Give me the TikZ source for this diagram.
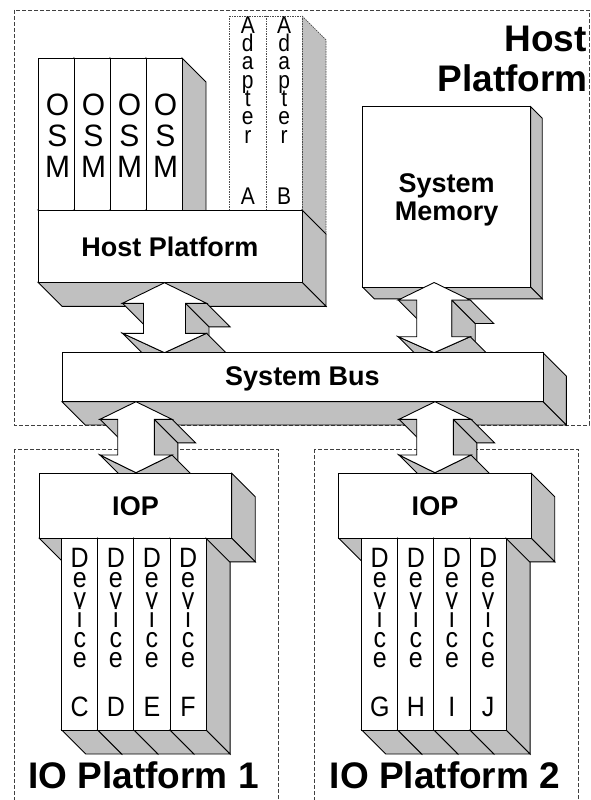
\documentclass[tikz,border=0pt]{standalone}
\usepackage{fontspec}
\usepackage{graphicx}
\setmainfont{Liberation Sans}
\definecolor{boxgray}{RGB}{192,192,192}
% font sizes (1pt = one unit of the drawing grid)
\newcommand\titlefont{\fontsize{37}{37}\selectfont\bfseries}
\newcommand\labelfont{\fontsize{27}{27}\selectfont\bfseries}
\newcommand\osmfont{\fontsize{30}{30}\selectfont}
\newcommand\adfont{\fontsize{21}{21}\selectfont}
\newcommand\devfont{\fontsize{25}{25}\selectfont}

\tikzset{
  face/.style={fill=white, draw=black, line width=0.9pt},
  side/.style={fill=boxgray, draw=black, line width=0.9pt},
  zone/.style={draw=black!75, line width=0.8pt, dash pattern=on 4pt off 2pt},
  slot/.style={draw=black!70, line width=0.7pt, dash pattern=on 1.5pt off 1pt},
  letter/.style={anchor=base, inner sep=0pt},
}

% extruded box: [style] x1 y1 x2 y2 depth  (right and lower faces shown)
\newcommand{\prism}[6][]{%
  \filldraw[side,#1] (#4,#3) -- ++(#6,#6) -- ({#4+#6},{#5+#6}) -- (#4,#5) -- cycle;
  \filldraw[side,#1] (#2,#5) -- (#4,#5) -- ({#4+#6},{#5+#6}) -- ({#2+#6},{#5+#6}) -- cycle;
  \filldraw[face,#1] (#2,#3) rectangle (#4,#5);
}

% extruded double arrow: cx top headhalf shafthalf headbase lowerbase bottom depth
\newcommand{\dualarrow}[8]{%
  \pgfmathsetmacro\arL{#1-#3}\pgfmathsetmacro\arR{#1+#3}%
  \pgfmathsetmacro\shL{#1-#4}\pgfmathsetmacro\shR{#1+#4}%
  \filldraw[side] (\shR,#5) -- (\shR,#6) -- ++(#8,#8) -- ({\shR+#8},{#5+#8}) -- cycle;
  \filldraw[side] (\shR,#5) -- (\arR,#5) -- ++(#8,#8) -- ({\shR+#8},{#5+#8}) -- cycle;
  \filldraw[side] (\arL,#5) -- (\shL,#5) -- ++(#8,#8) -- ({\arL+#8},{#5+#8}) -- cycle;
  \filldraw[side] (\arL,#6) -- (#1,#7) -- ++(#8,#8) -- ({\arL+#8},{#6+#8}) -- cycle;
  \filldraw[side] (#1,#7) -- (\arR,#6) -- ++(#8,#8) -- ({#1+#8},{#7+#8}) -- cycle;
  \filldraw[face] (#1,#2) -- (\arR,#5) -- (\shR,#5) -- (\shR,#6) -- (\arR,#6)
    -- (#1,#7) -- (\arL,#6) -- (\shL,#6) -- (\shL,#5) -- (\arL,#5) -- cycle;
}

% vertical lettering: one centred letter per line, fixed line step
\newcommand\vl[1]{\hbox to 24pt{\hss\scalebox{1}[\vstretch]{#1}\hss}}
\newcommand\vstack[3]{% step, vertical stretch, \vl letters
  \vtop{\def\vstretch{#2}\baselineskip=#1pt\lineskiplimit=-\maxdimen\lineskip=0pt #3}}

% a row of device cards under an IOP: prefix xshift letters
\newcommand{\devicerow}[3]{%
  \foreach \c [count=\n from 0] in {#3} {
    \pgfmathsetmacro\dx{#2+61.7+36.1*\n}
    \prism{\dx}{538.3}{\dx+36.1}{730}{24}
    \node[letter, font=\devfont] (#1\n) at (\dx+18.05,567)
      {\vstack{20}{1.12}{\vl D\vl e\vl v\vl i\vl c\vl e}};
    \node[letter, font=\devfont] (#1\n-id) at (\dx+18.05,716) {\scalebox{1}[1.12]{\c}};
  }
}

\begin{document}
\begin{tikzpicture}[x=1pt, y=-1pt]
  \useasboundingbox (0,0) rectangle (591,800);

  % platform outlines
  \draw[zone] (14,10) rectangle (589,425);
  \draw[zone] (14,449.3) rectangle (278.3,810);
  \draw[zone] (314,449.3) rectangle (578.3,810);

  \node[font=\titlefont, anchor=base east, inner sep=0pt] (host-t1) at (587,52) {Host};
  \node[font=\titlefont, anchor=base east, inner sep=0pt] (host-t2) at (588,91) {Platform};
  \node[font=\titlefont, anchor=base, inner sep=0pt] (io1-title) at (143.5,788) {IO Platform 1};
  \node[font=\titlefont, anchor=base, inner sep=0pt] (io2-title) at (445,788) {IO Platform 2};

  % OS modules standing on the host platform
  \foreach \i in {0,...,3} {
    \pgfmathsetmacro\ox{38+36*\i}
    \prism{\ox}{58}{\ox+36}{210}{24}
    \node[letter, font=\osmfont] (osm\i) at (\ox+19.5,115)
      {\vstack{31}{1.03}{\vl O\vl S\vl M}};
  }

  % adapter slots
  \prism[slot]{229.3}{16}{266}{210}{24}
  \prism[slot]{266}{16}{302}{210}{24}
  \node[letter, font=\adfont] (adA) at (247.8,33.3)
    {\vstack{18.3}{1.15}{\vl A\vl d\vl a\vl p\vl t\vl e\vl r}};
  \node[letter, font=\adfont] (adB) at (284.2,33.3)
    {\vstack{18.3}{1.15}{\vl A\vl d\vl a\vl p\vl t\vl e\vl r}};
  \node[letter, font=\adfont] (adA-id) at (247.8,204) {\scalebox{1}[1.15]{A}};
  \node[letter, font=\adfont] (adB-id) at (284.2,204) {\scalebox{1}[1.15]{B}};

  % host platform and memory
  \prism{38}{210}{302}{282.3}{24}
  \node[letter, font=\labelfont] (hostp) at (170,256.7) {Host Platform};
  \prism{362.7}{106.7}{530.7}{287.3}{11.5}
  \node[letter, font=\labelfont] (mem1) at (446.7,192) {System};
  \node[letter, font=\labelfont] (mem2) at (446.7,220) {Memory};

  % links to the system bus
  \dualarrow{164.5}{282.7}{42}{21}{303.3}{333.3}{352.7}{23.5}
  \dualarrow{434.2}{282.5}{36}{17.5}{300}{336.7}{352.7}{23.5}

  % system bus
  \prism{62}{352.7}{543}{401.7}{23.3}
  \node[letter, font=\labelfont] (bus) at (302.5,385.7) {System Bus};

  % links from the bus to the IO processors
  \dualarrow{136}{401.7}{36}{18.3}{419.3}{455}{472.7}{23.5}
  \dualarrow{435}{401.7}{36}{18.3}{419.3}{455}{472.7}{23.5}

  % IO processors and their devices
  \prism{39.3}{473.3}{231.7}{538.3}{23.5}
  \node[letter, font=\labelfont] (iop1) at (135.5,515) {IOP};
  \prism{338.8}{473.3}{531.2}{538.3}{23.5}
  \node[letter, font=\labelfont] (iop2) at (435,515) {IOP};

  \devicerow{devL}{0}{C,D,E,F}
  \devicerow{devR}{300}{G,H,I,J}
\end{tikzpicture}
\end{document}
